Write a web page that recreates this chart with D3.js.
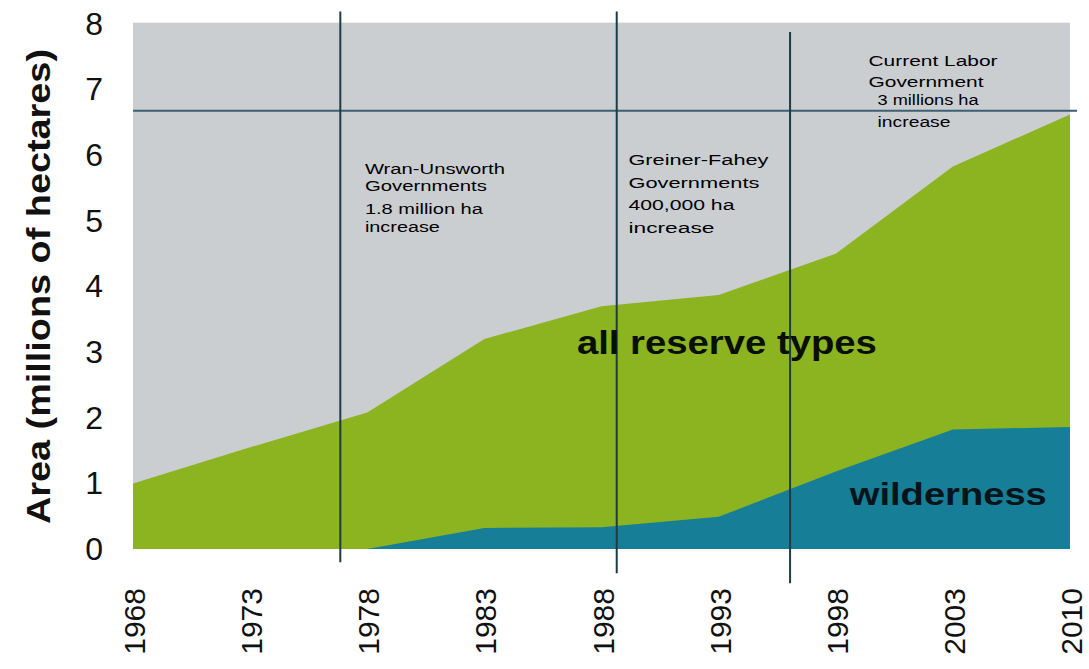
<!DOCTYPE html>
<html>
<head>
<meta charset="utf-8">
<script src="https://cdn.jsdelivr.net/npm/d3@7"></script>
<style>
  body { margin: 0; background: #fff; }
  svg { display: block; font-family: Arial, "Liberation Sans", sans-serif; }
</style>
</head>
<body>
<div id="chart"></div>
<script>
// data (millions of hectares)
const years = ["1968", "1973", "1978", "1983", "1988", "1993", "1998", "2003", "2010"];
const allReserves = [1.0, 1.55, 2.08, 3.2, 3.7, 3.87, 4.5, 5.83, 6.62];
const wilderness = [0, 0, 0, 0.32, 0.33, 0.49, 1.18, 1.82, 1.86];
const yTicks = [0, 1, 2, 3, 4, 5, 6, 7, 8];

// government change markers (position in year-index units, extent in axis units)
const markers = [
  {pos: 1.77, top: 8.19, bottom: -0.2},
  {pos: 4.13, top: 8.19, bottom: -0.37},
  {pos: 5.61, top: 7.88, bottom: -0.52}
];
const targetLevel = 6.68;

const notes = [
  {pos: 1.98, lines: [
    {t: "Wran-Unsworth", v: 5.72, w: 140},
    {t: "Governments", v: 5.46, w: 122},
    {t: "1.8 million ha", v: 5.1, w: 118},
    {t: "increase", v: 4.83, w: 75}]},
  {pos: 4.23, lines: [
    {t: "Greiner-Fahey", v: 5.85, w: 140},
    {t: "Governments", v: 5.5, w: 131},
    {t: "400,000 ha", v: 5.17, w: 106},
    {t: "increase", v: 4.82, w: 86}]},
  {pos: 6.28, lines: [
    {t: "Current Labor", v: 7.36, w: 129},
    {t: "Government", v: 7.04, w: 115},
    {t: "3 millions ha", v: 6.77, w: 101, dx: 9},
    {t: "increase", v: 6.43, w: 73, dx: 9}]}
];

const width = 1089, height = 669;
const svg = d3.select("#chart")
  .append("svg")
    .attr("width", width)
    .attr("height", height);

const x = d3.scaleLinear().domain([0, years.length - 1]).range([133, 1070]);
const y = d3.scaleLinear().domain([0, 8]).range([549, 24]);

// grey background
svg.append("rect")
  .attr("x", x(0))
  .attr("y", y(8.02))
  .attr("width", x(years.length - 1) - x(0))
  .attr("height", y(0) - y(8.02))
  .attr("fill", "#cbced1");

const area = d3.area()
  .x((d, i) => x(i))
  .y0(y(0))
  .y1(d => y(d));

svg.append("path")
  .datum(allReserves)
  .attr("d", area)
  .attr("fill", "#8cb320");

svg.append("path")
  .datum(wilderness)
  .attr("d", area)
  .attr("fill", "#177e97");

// reference lines
svg.append("line")
  .attr("x1", x(0))
  .attr("x2", x(8.06))
  .attr("y1", y(targetLevel))
  .attr("y2", y(targetLevel))
  .attr("stroke", "#3d5f73")
  .attr("stroke-width", 2);

svg.selectAll(".marker")
  .data(markers)
  .join("line")
    .attr("class", "marker")
    .attr("x1", d => x(d.pos))
    .attr("x2", d => x(d.pos))
    .attr("y1", d => y(d.top))
    .attr("y2", d => y(d.bottom))
    .attr("stroke", "#1f3b45")
    .attr("stroke-width", 2);

// annotations
notes.forEach(n => {
  svg.selectAll(null)
    .data(n.lines)
    .join("text")
      .attr("x", d => x(n.pos) + (d.dx || 0))
      .attr("y", d => y(d.v))
      .attr("textLength", d => d.w)
      .attr("lengthAdjust", "spacingAndGlyphs")
      .attr("font-size", "14px")
      .attr("fill", "#000")
      .text(d => d.t);
});

// series labels
svg.append("text")
  .attr("x", x(3.79))
  .attr("y", y(2.97))
  .attr("textLength", 300)
  .attr("lengthAdjust", "spacingAndGlyphs")
  .attr("font-size", "33px")
  .attr("font-weight", "bold")
  .attr("fill", "#0a0f05")
  .text("all reserve types");

svg.append("text")
  .attr("x", x(6.12))
  .attr("y", y(0.67))
  .attr("textLength", 197)
  .attr("lengthAdjust", "spacingAndGlyphs")
  .attr("font-size", "32px")
  .attr("font-weight", "bold")
  .attr("fill", "#06141a")
  .text("wilderness");

// Y axis
const yAxis = svg.append("g")
  .attr("transform", `translate(${x(0)},0)`)
  .call(d3.axisLeft(y).tickValues(yTicks).tickSize(0).tickPadding(30));
yAxis.select(".domain").remove();
yAxis.selectAll("text")
  .attr("font-size", "32px")
  .attr("font-family", "Arial, 'Liberation Sans', sans-serif")
  .attr("fill", "#111");

// X axis
const xAxis = svg.append("g")
  .attr("transform", `translate(0,${y(0)})`)
  .call(d3.axisBottom(x).tickValues(d3.range(years.length)).tickFormat(i => years[i]).tickSize(0));
xAxis.select(".domain").remove();
xAxis.selectAll("text")
  .attr("transform", "rotate(-90)")
  .attr("x", -39)
  .attr("y", 1)
  .attr("dy", "0.35em")
  .style("text-anchor", "end")
  .attr("font-size", "30px")
  .attr("font-family", "Arial, 'Liberation Sans', sans-serif")
  .attr("fill", "#111");

// Y axis title
svg.append("text")
  .attr("transform", `translate(50,${y(4.0)}) rotate(-90)`)
  .attr("text-anchor", "middle")
  .attr("textLength", 475)
  .attr("lengthAdjust", "spacingAndGlyphs")
  .attr("font-size", "34px")
  .attr("font-weight", "bold")
  .attr("fill", "#111")
  .text("Area (millions of hectares)");
</script>
</body>
</html>
